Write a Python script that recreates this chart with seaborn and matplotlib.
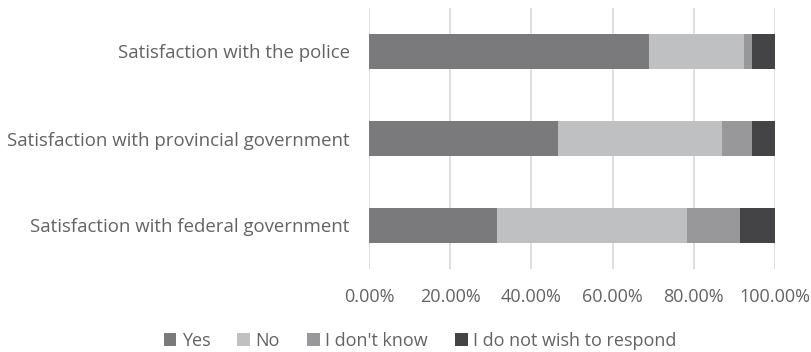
import matplotlib
matplotlib.use("Agg")
import matplotlib.pyplot as plt
import seaborn as sns
import numpy as np
import pandas as pd
from matplotlib.patches import Patch
from matplotlib.ticker import FuncFormatter

categories = ["Satisfaction with the police",
              "Satisfaction with provincial government",
              "Satisfaction with federal government"]
series_names = ["Yes", "No", "I don't know", "I do not wish to respond"]
yes = [69.0, 46.6, 31.6]
no = [23.4, 40.3, 46.8]
dont_know = [1.9, 7.4, 13.1]
no_response = [5.7, 5.7, 8.5]
xticks = [0, 20, 40, 60, 80, 100]

colors = ["#7a7a7c", "#bfc0c2", "#98989a", "#444446"]
text_color = "#636363"

sns.set_theme(style="white")
plt.rcParams['font.family'] = ['Open Sans', 'DejaVu Sans']

fig = plt.figure(figsize=(8.12, 3.52), dpi=100)
ax = fig.add_axes([369/812, 1-269/352, 406/812, 261/352])

vals = np.array([yes, no, dont_know, no_response])
cum = np.cumsum(vals, axis=0)
for i in range(3, -1, -1):
    df = pd.DataFrame({"cat": categories, "v": cum[i]})
    sns.barplot(data=df, x="v", y="cat", color=colors[i], saturation=1,
                width=0.40, ax=ax, orient="h", edgecolor="none")

ax.set_xlim(0, 100)
ax.set_xticks(xticks)
ax.xaxis.set_major_formatter(FuncFormatter(lambda v, p: f"{v:.2f}%"))
ax.grid(axis="x", color="#d9d9d9", linewidth=1.2)
ax.set_axisbelow(True)
for s in ax.spines.values():
    s.set_visible(False)
ax.set_xlabel("")
ax.set_ylabel("")
ax.tick_params(axis="x", length=0, labelsize=13, labelcolor=text_color, pad=14)
ax.tick_params(axis="y", length=0, labelsize=13.4, labelcolor=text_color, pad=14)

handles = [Patch(facecolor=c, edgecolor="none") for c in colors]
fig.legend(handles, series_names, loc="center", bbox_to_anchor=(420/812, 1-341/352),
           ncol=4, frameon=False, fontsize=13, labelcolor=text_color,
           handlelength=0.7, handleheight=0.7, handletextpad=0.3, columnspacing=1.5)

fig.savefig("out.png", dpi=100)
